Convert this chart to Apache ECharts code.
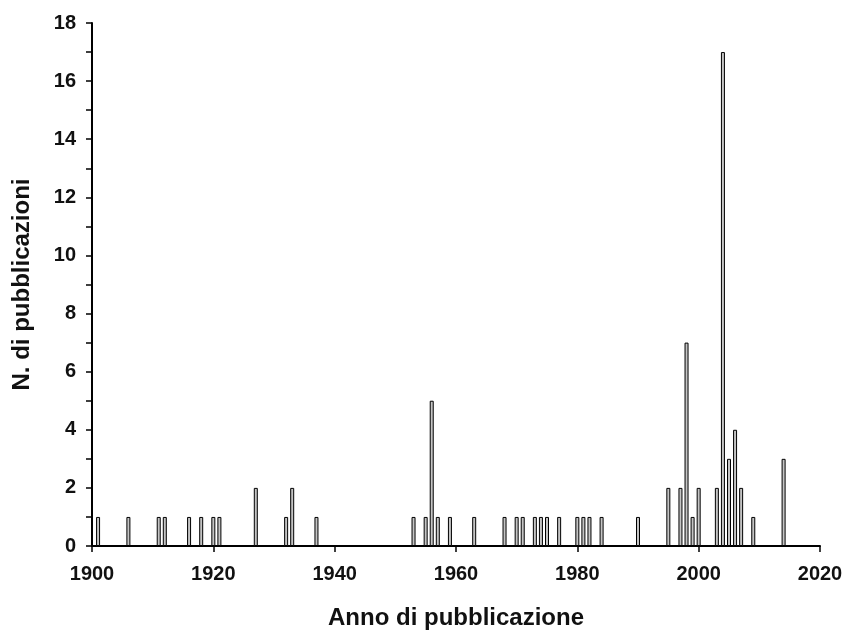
<!DOCTYPE html>
<html>
<head>
<meta charset="utf-8">
<script src="https://cdn.jsdelivr.net/npm/echarts@6/dist/echarts.min.js"></script>
<style>
html,body{margin:0;padding:0;background:#fff;}
#chart{width:843px;height:632px;}
</style>
</head>
<body>
<div id="chart"></div>
<script>
var years = [1901, 1906, 1911, 1912, 1916, 1918, 1920, 1921, 1927, 1932, 1933, 1937,
  1953, 1955, 1956, 1957, 1959, 1963, 1968, 1970, 1971, 1973, 1974, 1975, 1977,
  1980, 1981, 1982, 1984, 1990, 1995, 1997, 1998, 1999, 2000, 2003, 2004, 2005,
  2006, 2007, 2009, 2014];
var counts = [1, 1, 1, 1, 1, 1, 1, 1, 2, 1, 2, 1,
  1, 1, 5, 1, 1, 1, 1, 1, 1, 1, 1, 1, 1,
  1, 1, 1, 1, 1, 2, 2, 7, 1, 2, 2, 17, 3,
  4, 2, 1, 3];
var xTitle = 'Anno di pubblicazione';
var yTitle = 'N. di pubblicazioni';

var seriesData = years.map(function (y, i) { return [y, counts[i]]; });
var fontFam = '"Liberation Sans", Arial, sans-serif';
var chart = echarts.init(document.getElementById('chart'));
chart.setOption({
  animation: false,
  backgroundColor: '#ffffff',
  grid: { left: 92, right: 23, top: 23, bottom: 86, containLabel: false, outerBoundsMode: 'none' },
  xAxis: {
    type: 'value', min: 1900, max: 2020, interval: 20,
    name: xTitle, nameLocation: 'middle', nameGap: 60,
    nameTextStyle: { fontFamily: fontFam, fontWeight: 'bold', fontSize: 24, color: '#111' },
    axisLine: { show: true, onZero: false, lineStyle: { color: '#000', width: 2 } },
    axisTick: { show: true, length: 6, lineStyle: { color: '#000', width: 1.5 } },
    axisLabel: { fontFamily: fontFam, fontWeight: 'bold', fontSize: 20, color: '#111', margin: 18,
      formatter: function (v) { return String(v); } },
    splitLine: { show: false }
  },
  yAxis: {
    type: 'value', min: 0, max: 18, interval: 2,
    name: yTitle, nameLocation: 'middle', nameGap: 58, nameRotate: 90,
    nameTextStyle: { fontFamily: fontFam, fontWeight: 'bold', fontSize: 24, color: '#111' },
    axisLine: { show: true, lineStyle: { color: '#000', width: 2 } },
    axisTick: { show: true, length: 6, lineStyle: { color: '#000', width: 1.5 } },
    minorTick: { show: true, splitNumber: 2, length: 6, lineStyle: { color: '#000', width: 1.5 } },
    axisLabel: { fontFamily: fontFam, fontWeight: 'bold', fontSize: 20, color: '#111', margin: 16 },
    splitLine: { show: false }
  },
  series: [{
    type: 'bar',
    data: seriesData,
    barWidth: 4,
    itemStyle: { color: '#c4c4c4', borderColor: '#000', borderWidth: 1 }
  }]
});
</script>
</body>
</html>
